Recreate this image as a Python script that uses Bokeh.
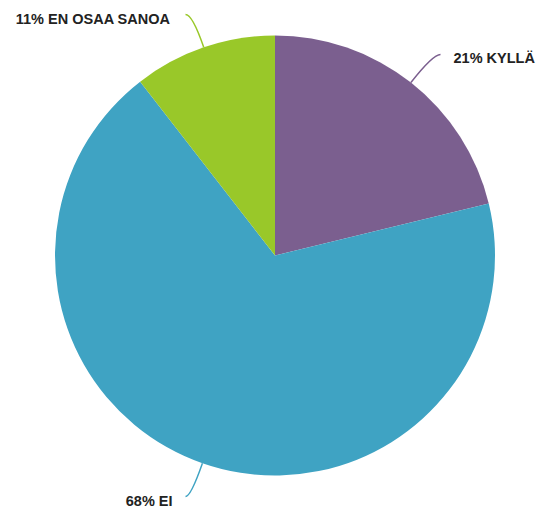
import math
from bokeh.plotting import figure
from bokeh.models import Range1d
from bokeh.core.properties import value
from bokeh.embed import file_html
from bokeh.resources import INLINE

labels = ["KYLLÄ", "EI", "EN OSAA SANOA"]
shares = [21.2, 68.3, 10.5]
percent_text = ["21%", "68%", "11%"]
colors = ["#7b5f8f", "#3fa3c3", "#99c829"]

W, H = 538, 508
p = figure(width=W, height=H, output_backend="svg", toolbar_location=None,
           x_range=Range1d(0, W), y_range=Range1d(0, H), min_border=0)
p.axis.visible = False
p.grid.visible = False
p.outline_line_color = None
p.background_fill_color = "white"

def Y(py):
    return H - py

cx, cy, r = 274.5, Y(255), 220
total = sum(shares)
cum = 0.0
starts, ends, mids = [], [], []
for s in shares:
    a0 = math.pi / 2 - 2 * math.pi * cum / total
    cum += s
    a1 = math.pi / 2 - 2 * math.pi * cum / total
    starts.append(a0); ends.append(a1); mids.append((a0 + a1) / 2)

p.wedge(x=[cx] * 3, y=[cy] * 3, radius=r, start_angle=starts, end_angle=ends,
        direction="clock", fill_color=colors, line_color=None)

# connector end points and label anchors (pixel layout)
ends_px = [(440, 54), (185, 496), (185, 14)]
text_pos = [(453, 57, "left"), (172, 500, "right"), (170, 18, "right")]
for i in range(3):
    a = mids[i]
    sx, sy = cx + r * math.cos(a), cy + r * math.sin(a)
    ex, ey = ends_px[i][0], Y(ends_px[i][1])
    k = (ey - sy) / math.sin(a) if abs(math.sin(a)) > 1e-6 else 20
    ctrlx, ctrly = sx + k * math.cos(a), ey
    p.quadratic(x0=[sx], y0=[sy], x1=[ex], y1=[ey], cx=[ctrlx], cy=[ctrly],
                line_color=colors[i], line_width=1.5)
    tx, ty, al = text_pos[i]
    p.text(x=[tx], y=[Y(ty)], text=[f"{percent_text[i]} {labels[i]}"],
           text_font=value("Liberation Sans"), text_font_style="bold",
           text_font_size="14.5px", text_color="#222222",
           text_align=al, text_baseline="middle")

open("out.html", "w").write(file_html(p, INLINE))
